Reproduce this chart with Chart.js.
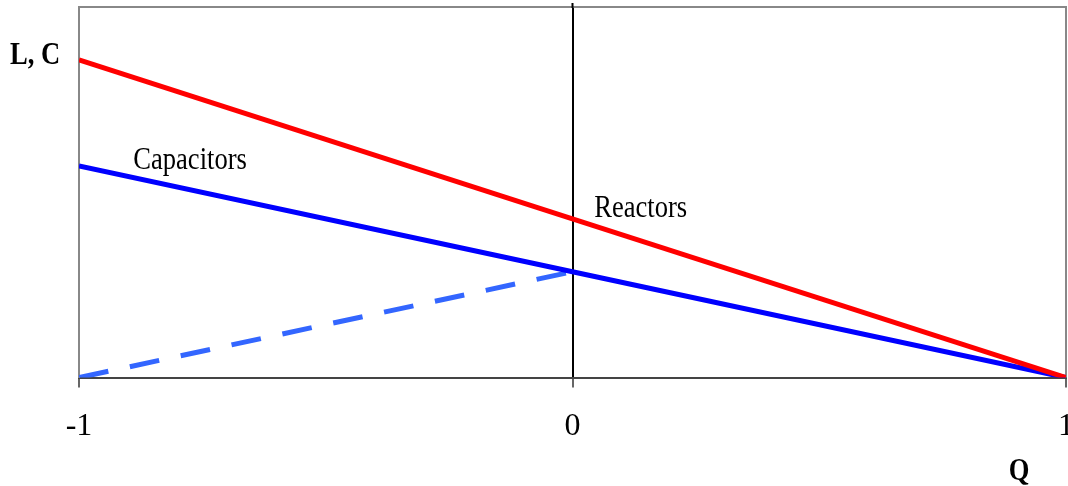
<!DOCTYPE html>
<html>
<head>
<meta charset="utf-8">
<script src="https://cdn.jsdelivr.net/npm/chart.js@4/dist/chart.umd.min.js"></script>
<style>
  html, body { margin: 0; padding: 0; background: #fff; overflow: hidden; }
  #wrap { width: 1094px; height: 486px; }
</style>
</head>
<body>
<div id="wrap"><canvas id="lc-chart" width="1094" height="486"></canvas></div>
<script>
// Q axis and the two curves (reactor / capacitor size vs Q)
var qValues = [-1, 0, 1];
var reactors = [6, 3, 0];
var capacitors = [4, 2, 0];
var capLowQ = [-1, 0];
var capLow = [0, 2];
var yMax = 7;

function pts(xs, ys) {
    var out = [];
    for (var i = 0; i < ys.length; i++) out.push({ x: xs[i], y: ys[i] });
    return out;
}

var SERIF = "'Liberation Serif', 'Times New Roman', serif";

// plot frame + free text labels
var frameAndText = {
    id: 'frameAndText',
    beforeDatasetsDraw: function (chart) {
        var ctx = chart.ctx, a = chart.chartArea;
        ctx.save();
        ctx.strokeStyle = '#888';
        ctx.lineWidth = 2;
        ctx.beginPath();
        ctx.moveTo(a.left, a.top);
        ctx.lineTo(a.right, a.top);
        ctx.lineTo(a.right, a.bottom);
        ctx.stroke();
        // zero line pokes a little above the frame
        var x0 = chart.scales.x.getPixelForValue(0);
        ctx.strokeStyle = '#000';
        ctx.beginPath();
        ctx.moveTo(x0, a.top - 4);
        ctx.lineTo(x0, a.top + 1);
        ctx.stroke();
        ctx.restore();
    },
    afterDraw: function (chart) {
        var ctx = chart.ctx, a = chart.chartArea;
        var xs = chart.scales.x, ys = chart.scales.y;
        function txt(s, x, y, bold, align) {
            ctx.save();
            ctx.fillStyle = '#000';
            ctx.font = (bold ? 'bold ' : '') + '32px ' + SERIF;
            ctx.textBaseline = 'alphabetic';
            ctx.textAlign = align || 'left';
            ctx.translate(x, y);
            ctx.scale(0.83, 1);
            ctx.fillText(s, 0, 0);
            ctx.restore();
        }
        txt('Capacitors', xs.getPixelForValue(-0.89), ys.getPixelForValue(3.94), false);
        txt('Reactors', xs.getPixelForValue(0.044), ys.getPixelForValue(3.04), false);
        txt('L, C', a.left - 69, a.top + 57, true);
        txt('Q', a.right - 47, chart.height - 6, true, 'center');
    }
};

new Chart(document.getElementById('lc-chart'), {
    type: 'line',
    data: {
        datasets: [
            {
                label: 'Reactors',
                data: pts(qValues, reactors),
                borderColor: '#ff0000',
                borderWidth: 5,
                pointRadius: 0,
                fill: false
            },
            {
                label: 'Capacitors',
                data: pts(qValues, capacitors),
                borderColor: '#0000ff',
                borderWidth: 5,
                pointRadius: 0,
                fill: false
            },
            {
                label: 'Capacitors (low)',
                data: pts(capLowQ, capLow),
                borderColor: '#3366ff',
                borderWidth: 5,
                borderDash: [30, 22],
                pointRadius: 0,
                fill: false
            }
        ]
    },
    options: {
        responsive: false,
        animation: false,
        layout: { padding: { left: 71, right: 19, top: 7, bottom: 20 } },
        plugins: {
            legend: { display: false },
            tooltip: { enabled: false }
        },
        scales: {
            x: {
                type: 'linear',
                min: -1,
                max: 1,
                ticks: {
                    stepSize: 1,
                    color: '#000',
                    padding: 20,
                    font: { family: SERIF, size: 32 },
                    maxRotation: 0
                },
                grid: {
                    color: function (c) { return c.tick && c.tick.value === 0 ? '#000' : 'rgba(0,0,0,0)'; },
                    lineWidth: 2,
                    tickColor: '#666',
                    tickLength: 10
                },
                border: { color: '#444', width: 2 }
            },
            y: {
                min: 0,
                max: yMax,
                ticks: { display: false },
                grid: { display: false },
                border: { color: '#888', width: 2 }
            }
        }
    },
    plugins: [frameAndText]
});
</script>
</body>
</html>
